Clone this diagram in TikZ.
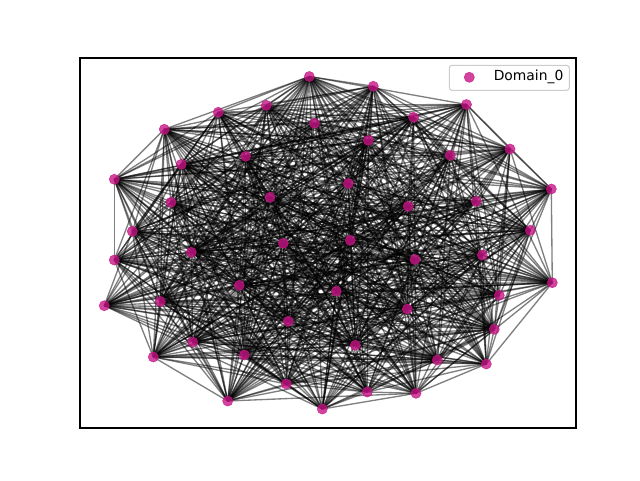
\documentclass[tikz,border=0pt]{standalone}
\usepackage{fontspec}
\setmainfont{DejaVu Sans}
\definecolor{mvr}{RGB}{199,21,133}
\tikzset{
  vtx/.style={circle,inner sep=0pt,minimum size=7.6pt,fill=mvr,draw=mvr,line width=0.4pt,opacity=0.8},
  edgeln/.style={black,opacity=0.5,line width=1pt},
}
\begin{document}
\begin{tikzpicture}[x=0.75pt,y=-0.75pt]
\useasboundingbox (0,0) rectangle (640,480);
\foreach \k/\x/\y in {1/309.3/76.5,2/373.3/86.3,3/466.5/104.5,4/266.3/105.3,5/218.3/112.3,6/413.5/117.3,7/314.5/123.3,8/164.3/129.3,9/368.3/140.3,10/510/149,11/450.3/155.3,12/245.7/156.3,13/181.3/164.3,14/114.3/179.3,15/348.3/183.5,16/551.3/189,17/270/197.3,18/171/202.3,19/476.3/201.3,20/408.3/206.3,21/132.3/231.3,22/530.3/230.3,23/350.3/240.3,24/283.3/243.3,25/191.3/252.3,26/114.3/260,27/415/259.5,28/482.3/255,29/552.3/282.7,30/239.3/285.3,31/336.3/291.3,32/499.3/295.3,33/104.3/305.7,34/160.3/301.5,35/407.3/309,36/288.3/321.3,37/494.3/329.3,38/192.7/342,39/355.3/345.3,40/437.3/360,41/153.3/357,42/244.3/355,43/486.3/364,44/286.3/384,45/367.3/392,46/416/393.3,47/227.7/401,48/322.3/409}{
  \coordinate (p\k) at (\x,\y);
}
\pgfmathsetseed{4242}
\foreach \i in {1,...,47}{
  \pgfmathtruncatemacro\ii{\i+1}
  \foreach \j in {\ii,...,48}{
    \pgfmathsetmacro\r{rnd}
    \ifdim\r pt<0.7pt \draw[edgeln] (p\i) -- (p\j); \fi
  }
}
\foreach \k in {1,...,48}{
  \node[vtx] (n\k) at (p\k) {};
}
\draw[line width=0.8pt] (80,58) rectangle (576,428);
\node[draw={rgb,255:red,204;green,204;blue,204},fill=white,fill opacity=0.8,draw opacity=1,rounded corners=2pt,line width=0.8pt,minimum width=90pt,minimum height=18.75pt,inner sep=0pt] (legbox) at (509.3,77.8) {};
\node[vtx] (legmark) at (469.3,77.3) {};
\node[anchor=west,inner sep=0pt,font=\fontsize{10.4pt}{12pt}\selectfont] (legtext) at (493.5,77.3) {Domain\_0};
\end{tikzpicture}
\end{document}
